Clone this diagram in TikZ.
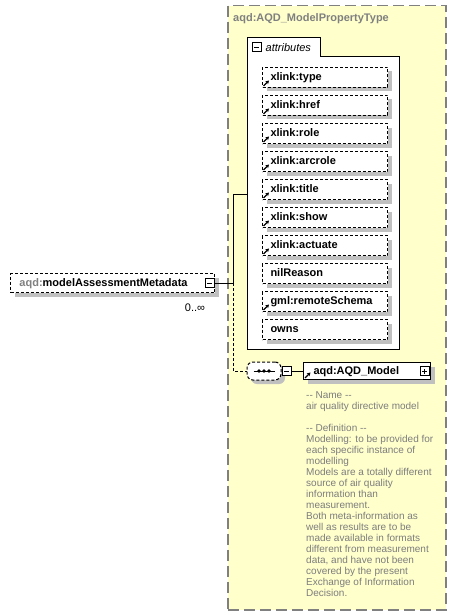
\documentclass[tikz,border=0pt]{standalone}
\usepackage{fontspec}
\setmainfont{Liberation Sans}
\usetikzlibrary{arrows.meta, positioning, shadows, calc}

\definecolor{propfill}{RGB}{255,255,204}
\definecolor{propline}{RGB}{128,128,128}
\definecolor{prefixgray}{RGB}{128,128,128}
\definecolor{shadowgray}{RGB}{192,192,192}
\definecolor{annotgray}{RGB}{125,125,125}

\tikzset{
  boxshadow/.style={drop shadow={shadow xshift=4pt, shadow yshift=-4pt, opacity=1, fill=shadowgray}},
  dotline/.style={line width=1pt, dash pattern=on 3pt off 2pt},
  attr/.style={draw, fill=white, dotline, boxshadow, anchor=north west,
    text width=109pt, inner xsep=8pt, inner ysep=0pt, minimum height=20pt,
    text height=8pt, text depth=2pt, font=\fontsize{11}{13}\selectfont\bfseries},
  collapse/.style={draw, fill=white, line width=1pt, minimum size=9pt, inner sep=0pt,
    path picture={\draw ([xshift=2pt]path picture bounding box.west) -- ([xshift=-2pt]path picture bounding box.east);}},
  expand/.style={draw, fill=white, line width=1pt, minimum size=9pt, inner sep=0pt,
    path picture={\draw ([xshift=2pt]path picture bounding box.west) -- ([xshift=-2pt]path picture bounding box.east);
      \draw ([yshift=2pt]path picture bounding box.south) -- ([yshift=-2pt]path picture bounding box.north);}},
  refarrow/.style={line width=1.1pt, -{Stealth[length=3.5pt, width=4pt]}}
}

\begin{document}
\begin{tikzpicture}[x=1pt, y=-1pt,
    every node/.style={font=\fontsize{11}{13}\selectfont},
    outerbox/.style={draw=propline, fill=propfill, line width=1.5pt, dash pattern=on 11pt off 5pt,
      anchor=north west, inner sep=0pt, minimum width=218pt, minimum height=604pt},
    elembox/.style={draw, fill=white, dotline, boxshadow, anchor=north west,
      text width=186pt, inner xsep=9pt, inner ysep=0pt, minimum height=19pt,
      text height=8pt, text depth=2pt, font=\fontsize{11}{13}\selectfont\bfseries},
    typebox/.style={draw, fill=white, line width=1pt, boxshadow, anchor=north west,
      text width=107pt, inner xsep=10pt, inner ysep=0pt, minimum height=17pt,
      text height=8pt, text depth=2pt, font=\fontsize{11}{13}\selectfont\bfseries},
    seqbox/.style={rectangle, rounded corners=6pt, draw, fill=white, dotline,
      boxshadow, minimum width=34pt, minimum height=18pt, inner sep=0pt},
    annot/.style={anchor=north west, align=left, inner sep=0pt, text=annotgray,
      font=\fontsize{10}{11}\selectfont}]
  \useasboundingbox (0,0) rectangle (456,615);

  % complex type frame
  \node[outerbox] (ptype) at (227,5) {};
  \node[anchor=west, inner sep=0pt, text=propline, font=\fontsize{11}{13}\selectfont\bfseries] (ptitle) at (233,19) {aqd:AQD\_ModelPropertyType};

  % attribute group with its tab
  \draw[line width=1pt, fill=white] (247,349) -- (247,38) -- (320,38) -- (320,57) -- (399,57) -- (399,349) -- cycle;
  \node[collapse] (attrminus) at (256.5,47.5) {};
  \node[right=4pt of attrminus, inner sep=0pt, font=\fontsize{11}{13}\selectfont\itshape] (attrlabel) {attributes};
  \coordinate (attrin) at (247,194);

  \node[attr] (xtype) at (262,67) {xlink:type};
  \node[attr] (xhref) at (262,95) {xlink:href};
  \node[attr] (xrole) at (262,123) {xlink:role};
  \node[attr] (xarcrole) at (262,151) {xlink:arcrole};
  \node[attr] (xtitle) at (262,179) {xlink:title};
  \node[attr] (xshow) at (262,207) {xlink:show};
  \node[attr] (xactuate) at (262,235) {xlink:actuate};
  \node[attr] (nilreason) at (262,263) {nilReason};
  \node[attr] (remoteschema) at (262,291) {gml:remoteSchema};
  \node[attr] (owns) at (262,319) {owns};

  \draw[refarrow] ($(xtype.south west)+(1.5,-2)$) -- ++(5.5,-5.5);
  \draw[refarrow] ($(xhref.south west)+(1.5,-2)$) -- ++(5.5,-5.5);
  \draw[refarrow] ($(xrole.south west)+(1.5,-2)$) -- ++(5.5,-5.5);
  \draw[refarrow] ($(xarcrole.south west)+(1.5,-2)$) -- ++(5.5,-5.5);
  \draw[refarrow] ($(xtitle.south west)+(1.5,-2)$) -- ++(5.5,-5.5);
  \draw[refarrow] ($(xshow.south west)+(1.5,-2)$) -- ++(5.5,-5.5);
  \draw[refarrow] ($(xactuate.south west)+(1.5,-2)$) -- ++(5.5,-5.5);
  \draw[refarrow] ($(remoteschema.south west)+(1.5,-2)$) -- ++(5.5,-5.5);

  % the element
  \node[elembox] (metadata) at (10,273) {{\color{prefixgray}aqd:}modelAssessmentMetadata};
  \node[collapse] (elmminus) at (209.5,283) {};
  \node[inner sep=0pt] (occurs) at (195,308) {0..\char"221E};

  % sequence and child type
  \node[seqbox] (seq) at (264,371) {};
  \draw[line width=1pt] ([xshift=7pt]seq.west) -- ([xshift=-7pt]seq.east);
  \fill (259,371) circle (1.8);
  \fill (264,371) circle (1.8);
  \fill (269,371) circle (1.8);
  \node[collapse] (seqminus) at (286.5,371) {};
  \node[typebox] (model) at (303,362) {aqd:AQD\_Model};
  \node[expand] (modelplus) at (424.5,371) {};
  \draw[refarrow] ($(model.south west)+(2,-2)$) -- ++(5.5,-5.5);

  \node[annot] (modeldoc) at (306,391) {-{}- Name -{}-\\air quality directive model\\[11pt]-{}- Definition -{}-\\Modelling: to be provided for\\each specific instance of\\modelling\\Models are a totally different\\source of air quality\\information than\\measurement.\\Both meta-information as\\well as results are to be\\made available in formats\\different from measurement\\data, and have not been\\covered by the present\\Exchange of Information\\Decision.};

  % connectors
  \coordinate (fork) at (233,283);
  \coordinate (forkup) at (233,194);
  \draw[line width=1pt] (elmminus.east) -- (fork) -- (forkup) -- (attrin);
  \draw[dotline] (fork) |- (seq.west);
  \draw[line width=1pt] (seqminus.east) -- (model.west);
\end{tikzpicture}
\end{document}
